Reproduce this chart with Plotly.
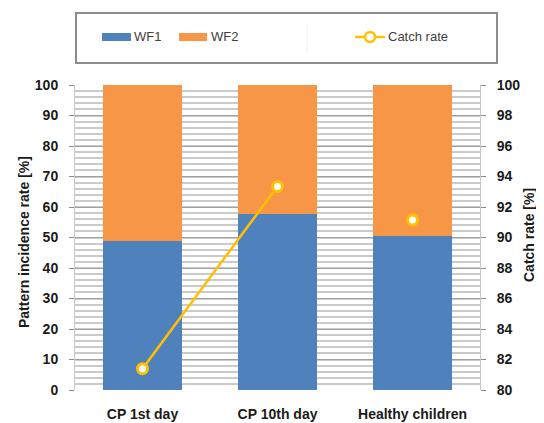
import plotly.graph_objects as go

categories = ["CP 1st day", "CP 10th day", "Healthy children"]
wf1 = [49.0, 57.6, 50.4]
wf2 = [51.0, 42.4, 49.6]
catch_rate = [81.4, 93.35, 91.15]
left_ticks = list(range(0, 101, 10))
right_ticks = list(range(80, 101, 2))

BLUE = "#4F81BD"
ORANGE = "#F79646"
GOLD = "#FFC000"
FONT = "Liberation Sans"
TXT = "#1A1A1A"

fig = go.Figure()
fig.add_trace(go.Bar(x=categories, y=wf1, name="WF1", marker=dict(color=BLUE, line=dict(width=0)), showlegend=False))
fig.add_trace(go.Bar(x=categories, y=wf2, name="WF2", marker=dict(color=ORANGE, line=dict(width=0)), showlegend=False))
fig.add_trace(go.Scatter(x=categories[:2], y=catch_rate[:2], yaxis="y2", mode="lines+markers",
                         name="Catch rate", line=dict(color=GOLD, width=2.5),
                         marker=dict(size=10, color="white", line=dict(color=GOLD, width=3)),
                         showlegend=False))
fig.add_trace(go.Scatter(x=categories[2:], y=catch_rate[2:], yaxis="y2", mode="markers",
                         name="Catch rate", marker=dict(size=10, color="white", line=dict(color=GOLD, width=3)),
                         showlegend=False))

# page body has an 8px margin; screen coords below are converted to figure coords
OFF = 8
W, H = 544 - OFF, 423 - OFF
PL, PR, PT, PB = 75, 480, 85, 390  # plot area in screen pixels
L, R, T, B = PL - OFF, W - (PR - OFF), PT - OFF, H - (PB - OFF)
pw, ph = PR - PL, PB - PT


def px(x):
    return (x - PL) / pw


def py(y):
    return (PB - y) / ph


shapes = [
    # legend frame
    dict(type="rect", xref="paper", yref="paper", x0=px(76), x1=px(497), y0=py(63), y1=py(13),
         line=dict(color="#8C8C8C", width=2), fillcolor="rgba(0,0,0,0)"),
    dict(type="line", xref="paper", yref="paper", x0=px(307), x1=px(307), y0=py(53), y1=py(25),
         line=dict(color="#F0F0F0", width=1)),
    dict(type="rect", xref="paper", yref="paper", x0=px(102), x1=px(131), y0=py(41), y1=py(33),
         line=dict(width=0), fillcolor=BLUE),
    dict(type="rect", xref="paper", yref="paper", x0=px(179), x1=px(207), y0=py(41), y1=py(33),
         line=dict(width=0), fillcolor=ORANGE),
    dict(type="line", xref="paper", yref="paper", x0=px(355), x1=px(385), y0=py(37), y1=py(37),
         line=dict(color=GOLD, width=2.5)),
    dict(type="circle", xref="paper", yref="paper", x0=px(365), x1=px(375), y0=py(42), y1=py(32),
         line=dict(color=GOLD, width=2.5), fillcolor="white"),
]
annotations = [
    dict(text="WF1", xref="paper", yref="paper", x=px(132), y=py(37), xanchor="left", yanchor="middle",
         showarrow=False, font=dict(family=FONT, size=13, color="#404040")),
    dict(text="WF2", xref="paper", yref="paper", x=px(209), y=py(37), xanchor="left", yanchor="middle",
         showarrow=False, font=dict(family=FONT, size=13, color="#404040")),
    dict(text="Catch rate", xref="paper", yref="paper", x=px(386), y=py(37), xanchor="left", yanchor="middle",
         showarrow=False, font=dict(family=FONT, size=13, color="#404040")),
    dict(text="Pattern incidence rate [%]", xref="paper", yref="paper", x=px(24), y=py(242),
         xanchor="center", yanchor="middle", textangle=-90, showarrow=False,
         font=dict(family=FONT, size=14, color=TXT, weight="bold")),
    dict(text="Catch rate [%]", xref="paper", yref="paper", x=px(529), y=py(235),
         xanchor="center", yanchor="middle", textangle=-90, showarrow=False,
         font=dict(family=FONT, size=14, color=TXT, weight="bold")),
]

fig.update_layout(
    width=W, height=H,
    margin=dict(l=L, r=R, t=T, b=B, pad=0),
    barmode="stack", bargap=0.42,
    plot_bgcolor="white", paper_bgcolor="white",
    font=dict(family=FONT, color=TXT),
    shapes=shapes, annotations=annotations,
    xaxis=dict(showgrid=False, ticks="", ticklabelstandoff=14, automargin=False,
               tickfont=dict(family=FONT, size=14, color=TXT, weight="bold"),
               showline=False, zeroline=False),
    yaxis=dict(range=[0, 100], tickvals=left_ticks, ticks="outside", ticklen=5, tickcolor="#8C8C8C",
               ticklabelstandoff=8, automargin=False,
               showgrid=True, gridcolor="#A0A0A0", gridwidth=1,
               minor=dict(dtick=2, showgrid=True, gridcolor="#CACACA", gridwidth=1.5),
               showline=True, linecolor="#C8C8C8", linewidth=1, zeroline=False,
               tickfont=dict(family=FONT, size=14, color=TXT, weight="bold")),
    yaxis2=dict(range=[80, 100], tickvals=right_ticks, overlaying="y", side="right",
                ticks="outside", ticklen=5, tickcolor="#8C8C8C", showgrid=False,
                ticklabelstandoff=8, automargin=False,
                showline=True, linecolor="#C8C8C8", linewidth=1, zeroline=False,
                tickfont=dict(family=FONT, size=14, color=TXT, weight="bold")),
)

fig.write_html(
    "out.html",
    post_script="document.documentElement.style.overflow='hidden';document.body.style.overflow='hidden';",
)
